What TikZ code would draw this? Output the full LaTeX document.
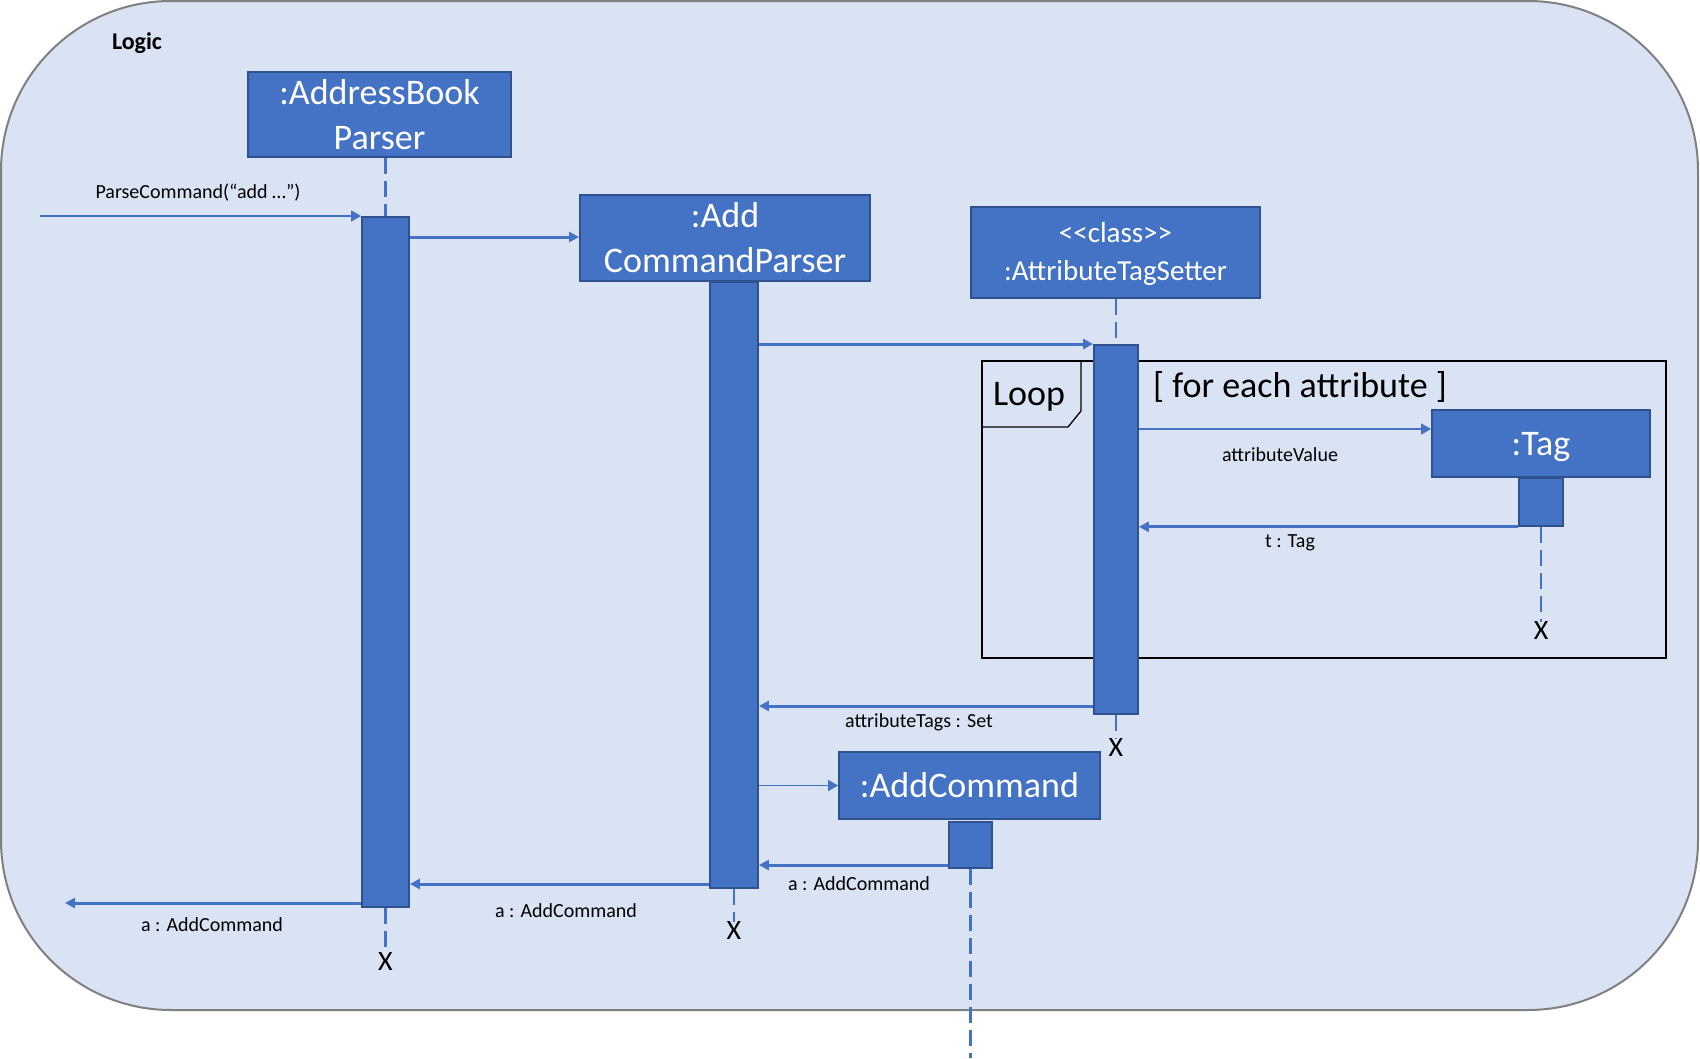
\documentclass[tikz,border=0pt]{standalone}
\usepackage{fontspec}
\setmainfont{Carlito}
\usetikzlibrary{arrows.meta}
\definecolor{objblue}{HTML}{4472C4}
\definecolor{objedge}{HTML}{2F528F}
\definecolor{logicbg}{HTML}{DAE3F3}
\definecolor{logicedge}{HTML}{808080}

\begin{document}
\begin{tikzpicture}[x=1pt,y=-1pt]
    \tikzstyle{every node}+=[inner sep=0pt]
    \tikzstyle{obj}=[draw=objedge,fill=objblue,line width=1.8pt,text=white,align=center,font=\fontsize{36}{45}\selectfont]
    \tikzstyle{act}=[draw=objedge,fill=objblue,line width=1.8pt]
    \tikzstyle{life}=[objblue,line width=2.5pt,dash pattern=on 16pt off 7pt]
    \tikzstyle{thinmsg}=[objblue,line width=1.3pt,-{Triangle[length=10pt,width=11pt]}]
    \tikzstyle{thickmsg}=[objblue,line width=3pt,-{Triangle[length=10pt,width=10pt]}]
    \tikzstyle{lbl}=[font=\fontsize{20}{24}\selectfont]
    \tikzstyle{kill}=[font=\fontsize{28}{32}\selectfont]
    \useasboundingbox (0,0) rectangle (1700,1058);
    \draw [logicedge,fill=logicbg,line width=2pt,rounded corners=170pt] (1,1) rectangle (1698,1010);
    \node [font=\bfseries\fontsize{24}{28}\selectfont] (logic) at (137,43) {Logic};
    \node [obj,minimum width=263pt,minimum height=85pt] (abp) at (379.5,114.5) {:AddressBook\\Parser};
    \node [obj,minimum width=290pt,minimum height=86pt] (acp) at (725,238) {:Add\\CommandParser};
    \node [obj,minimum width=289pt,minimum height=91pt,font=\fontsize{29}{38}\selectfont,text depth=3pt] (ats) at (1115.5,252.5) {<\kern0pt<class>\kern0pt>\\:AttributeTagSetter};
    \node [obj,minimum width=218pt,minimum height=67pt,text depth=0pt] (tag) at (1541,443.5) {:Tag};
    \node [obj,minimum width=261pt,minimum height=67pt] (ac) at (969.5,785.5) {:AddCommand};
    \draw [line width=2pt] (982,361) rectangle (1666,658);
    \draw [line width=1.3pt] (982,427) -- (1068,427) -- (1081,411) -- (1081,361);
    \node [font=\fontsize{36}{40}\selectfont] (loop) at (1029,397) {Loop};
    \node [font=\fontsize{36}{40}\selectfont] (guard) at (1300,387) {[ for each attribute ]};
    \node [kill] (x1) at (385.5,962) {X};
    \node [kill] (x2) at (734,931) {X};
    \node [kill] (x3) at (1116,748) {X};
    \node [kill] (x4) at (1541,631) {X};
    \coordinate (acend) at (970.5,1058);
    \coordinate (caller) at (40,216);
    \coordinate (outside) at (65,903);
    \node [act,minimum width=47pt,minimum height=690pt,anchor=north] (act1) at (385.5,216) {};
    \node [act,minimum width=48pt,minimum height=606pt,anchor=north] (act2) at (734,281) {};
    \node [act,minimum width=44pt,minimum height=369pt,anchor=north] (act3) at (1116,344) {};
    \node [act,minimum width=44pt,minimum height=48pt,anchor=north] (act4) at (1541,477) {};
    \node [act,minimum width=43pt,minimum height=46pt,anchor=north] (act5) at (970.5,821) {};
    \draw [life] (act1.north |- abp.south) -- (act1.north);
    \draw [life] (act3.north |- ats.south) -- (act3.north);
    \draw [life] (act1.south) -- (x1.north);
    \draw [life] (act2.south) -- (x2.north);
    \draw [life] (act3.south) -- (x3.north);
    \draw [life] (act4.south) -- (x4.north);
    \draw [life] (act5.south) -- (acend);
    \draw [thinmsg] (caller) -- (act1.west |- caller);
    \node [lbl] (m0) at (198,193) {ParseCommand(“add …”)};
    \draw [thickmsg] (act1.east |- 0,237) -- (acp.west |- 0,237);
    \draw [thickmsg] (act2.east |- act3.north) -- (act3.north west);
    \draw [thinmsg] (act3.east |- 0,429) -- (tag.west |- 0,429);
    \node [lbl] (m3) at (1280,455) {attributeValue};
    \draw [thickmsg] (act4.south west) -- (act3.east |- act4.south);
    \node [lbl] (m4) at (1290,543) {t : Tag};
    \draw [thickmsg] (act3.west |- 0,706) -- (act2.east |- 0,706);
    \node [lbl] (m5) at (919,722) {attributeTags : Set};
    \draw [thinmsg] (act2.east |- ac.west) -- (ac.west);
    \draw [thickmsg] (act5.west |- 0,865) -- (act2.east |- 0,865);
    \node [lbl] (m7) at (859,884) {a : AddCommand};
    \draw [thickmsg] (act2.west |- 0,884) -- (act1.east |- 0,884);
    \node [lbl] (m8) at (566,911) {a : AddCommand};
    \draw [thickmsg] (act1.west |- outside) -- (outside);
    \node [lbl] (m9) at (212,925) {a : AddCommand};
\end{tikzpicture}
\end{document}
